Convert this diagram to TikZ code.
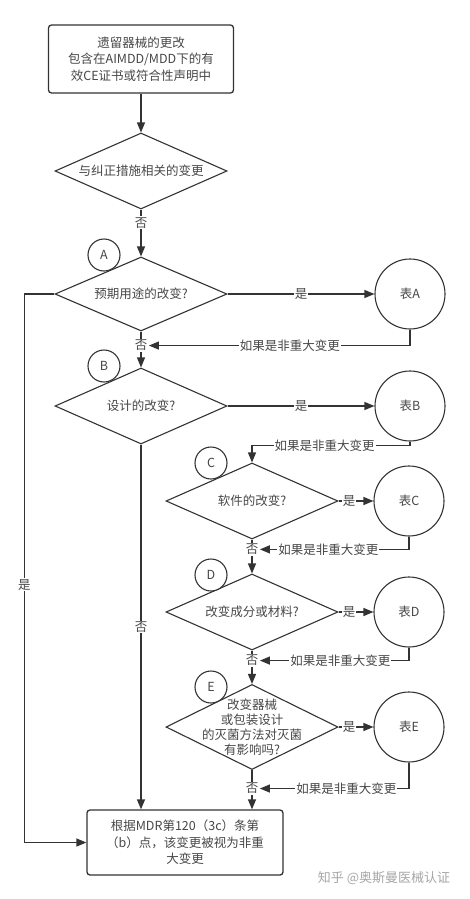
\documentclass[tikz,border=0pt]{standalone}
\usepackage{fontspec}
\setmainfont{Noto Sans CJK SC}
\usepackage{tikz}
\usetikzlibrary{arrows.meta, shapes.geometric, positioning}
\definecolor{ink}{HTML}{333333}
\tikzset{
  txt/.style = {align=center, inner sep=0pt, text=ink!90,
    font=\fontsize{12.5}{16.5}\selectfont},
  proc/.style = {txt, rectangle, rounded corners=3pt, draw=ink,
    line width=1.3pt, minimum width=185pt, minimum height=68pt},
  dec/.style = {txt, diamond, draw=ink, line width=1.1pt, aspect=2.3,
    minimum width=172pt, minimum height=76pt},
  tbl/.style = {txt, circle, draw=ink, line width=1.1pt,
    minimum size=70pt},
  ltr/.style = {txt, circle, draw=ink, fill=white, line width=1.1pt,
    minimum size=32pt},
  lab/.style = {txt, fill=white, inner sep=1pt}
}
\begin{document}
\begin{tikzpicture}[->,>={Triangle[length=10pt,width=8pt]}, color=ink, line width=1.3pt, x=1pt, y=-1pt]
\useasboundingbox (0,0) rectangle (469,899);
% boxes and questions
\node [proc] (top) at (141,59) {遗留器械的更改\\包含在AIMDD/MDD下的有\\效CE证书或符合性声明中};
\node [dec] (d0) at (141,171) {与纠正措施相关的变更};
\node [dec, minimum height=74pt] (dA) at (141,294) {预期用途的改变?};
\node [ltr] (lA) at (104,255) {A};
\node [tbl] (tA) at (410,294) {表A};
\node [dec] (dB) at (141,406) {设计的改变?};
\node [ltr] (lB) at (104,366) {B};
\node [tbl] (tB) at (410,406) {表B};
\node [dec] (dC) at (252,501) {软件的改变?};
\node [ltr] (lC) at (211,463) {C};
\node [tbl] (tC) at (409,501) {表C};
\node [dec] (dD) at (252,612) {改变成分或材料?};
\node [ltr] (lD) at (211,575) {D};
\node [tbl] (tD) at (409,612) {表D};
\node [dec, minimum height=85pt] (dE) at (252,727) {};
\node [txt, font=\fontsize{12.5}{15}\selectfont] (eq) at (dE) {改变器械\\或包装设计\\的灭菌方法对灭菌\\有影响吗?};
\node [ltr] (lE) at (211,687) {E};
\node [tbl] (tE) at (409,727) {表E};
\node [proc, minimum width=196pt, minimum height=65pt] (fin) at (185,842.5) {根据MDR第120（3c）条第\\（b）点，该变更被视为非重\\大变更};
\node [txt, text=black!35, font=\fontsize{13}{15}\selectfont] (mark) at (384,878) {知乎 @奥斯曼医械认证};

% connectors
\draw (top) -- (d0);
\draw (d0) -- node[lab, pos=0.28] {否} (dA);
\draw (dA) -- node[lab] {是} (tA);
\draw (dA) -- node[lab, pos=0.39] (nA) {否} (dB);
\draw (tA.south) |- node[lab, pos=0.73] {如果是非重大变更} (nA.east);
\draw (dA.west) -- ++(-30,0) |- node[lab, pos=0.265] {是} (fin.west);
\draw (dB) -- node[lab] {是} (tB);
\draw (tB.south) -- ++(0,4) -| node[lab, pos=0.27] {如果是非重大变更} (dC.north);
\draw (dB.south) -- node[lab] {否} (dB.south |- fin.north);
\draw (dC) -- node[lab, pos=0.3] {是} (tC);
\draw (dC) -- node[lab, pos=0.29] (nC) {否} (dD);
\draw (tC.south) |- node[lab, pos=0.77] {如果是非重大变更} (nC.east);
\draw (dD) -- node[lab, pos=0.3] {是} (tD);
\draw (dD) -- node[lab, pos=0.3] (nD) {否} (dE);
\draw (tD.south) |- node[lab, pos=0.73] {如果是非重大变更} (nD.east);
\draw (dE) -- node[lab, pos=0.3] {是} (tE);
\draw (dE.south) -- node[lab, pos=0.47] (nE) {否} (dE.south |- fin.north);
\draw (tE.south) |- node[lab, pos=0.71] {如果是非重大变更} (nE.east);
\end{tikzpicture}
\end{document}
